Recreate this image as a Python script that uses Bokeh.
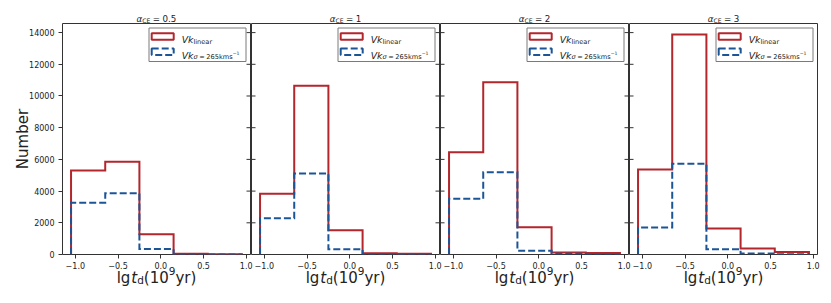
import math
from bokeh.plotting import figure
from bokeh.layouts import row, column
from bokeh.models import FixedTicker, Label, BoxAnnotation, Range1d
from bokeh.embed import file_html
from bokeh.resources import INLINE

# ---------------- data ----------------
bin_edges = [-1.05, -0.65, -0.25, 0.15, 0.55, 0.95]
alpha_ce = ["0.5", "1", "2", "3"]
linear_counts = [
    [5300, 5850, 1280, 40, 10],
    [3840, 10650, 1530, 85, 50],
    [6450, 10860, 1720, 125, 100],
    [5370, 13880, 1640, 380, 160],
]
sigma_counts = [
    [3270, 3870, 350, 10, 0],
    [2280, 5110, 330, 20, 0],
    [3520, 5190, 230, 50, 0],
    [1700, 5720, 335, 60, 20],
]
x_ticks = [-1.0, -0.5, 0.0, 0.5, 1.0]
x_tick_labels = ["\u22121.0", "\u22120.5", "0.0", "0.5", "1.0"]
y_ticks = [0, 2000, 4000, 6000, 8000, 10000, 12000, 14000]
y_label = "Number"

# ---------------- style ----------------
FONT = "DejaVu Sans"
RED = "#b2262c"
BLUE = "#1c5596"
SPINE = "#333333"
TEXT = "#222222"
FW, FH = 188, 231
TOTAL_W, TOTAL_H = 831, 303
LEFT0, TOP0, STEP = 62, 23, 189

W = {" ": .318, "=": .838, ".": .318, "(": .390, ")": .390, "\u2212": .838,
     "0": .636, "1": .636, "2": .636, "3": .636, "4": .636, "5": .636,
     "6": .636, "7": .636, "8": .636, "9": .636,
     "C": .698, "E": .632, "V": .684, "k": .579, "l": .278, "i": .278,
     "n": .634, "e": .615, "a": .613, "r": .411, "m": .974, "s": .521,
     "g": .635, "t": .392, "d": .635, "y": .592,
     "\u03b1": .659, "\u03c3": .634}


def tw(s, size):
    return sum(W.get(c, .6) for c in s) * size


span_x = bin_edges[-1] - bin_edges[0]
x_lo = bin_edges[0] - 0.05 * span_x
x_hi = bin_edges[-1] + 0.05 * span_x
y_hi = 1.05 * max(max(c) for c in linear_counts + sigma_counts)


def dx(px):
    return x_lo + px * (x_hi - x_lo) / FW


def dy(py):
    return py * y_hi / FH


def put(p, x_px, y_px, items, align="left", color=TEXT, conv=None):
    """items: (text, size, style, dy) ; text None -> gap of `size` px."""
    total = sum(tw(t, s) if t is not None else s for t, s, _, _ in items)
    x = x_px - total / 2 if align == "center" else x_px
    fx, fy = conv if conv else (dx, dy)
    for t, s, style, off in items:
        if t is None:
            x += s
            continue
        p.add_layout(Label(x=fx(x), y=fy(y_px + off), text=t, text_font=FONT,
                           text_font_size=f"{s}px", text_font_style=style,
                           text_color=color, text_align="left",
                           text_baseline="alphabetic"))
        x += tw(t, s)


def step_path(edges, counts):
    xs, ys = [edges[0]], [0]
    for i, c in enumerate(counts):
        xs += [edges[i], edges[i + 1]]
        ys += [c, c]
    xs.append(edges[-1])
    ys.append(0)
    return xs, ys


tick_len = 4 * (x_hi - x_lo) / FW
figs = []
for k in range(4):
    left = LEFT0 if k == 0 else 0
    right = 5 if k == 3 else 6
    p = figure(frame_width=FW, frame_height=FH, min_border_left=left,
               min_border_right=right, min_border_top=TOP0,
               min_border_bottom=TOTAL_H - TOP0 - FH,
               x_range=Range1d(x_lo, x_hi), y_range=Range1d(0, y_hi),
               output_backend="svg", toolbar_location=None, title=None)
    p.border_fill_color = None
    p.background_fill_color = None
    p.outline_line_color = SPINE
    p.outline_line_width = 1
    p.xgrid.visible = False
    p.ygrid.visible = False
    if k > 0:
        p.margin = (0, 0, 0, -5)

    xa = p.xaxis[0]
    xa.ticker = FixedTicker(ticks=x_ticks)
    xa.major_label_overrides = {t: l for t, l in zip(x_ticks, x_tick_labels)}
    xa.major_tick_out = 4
    xa.major_tick_in = 0
    xa.minor_tick_in = 0
    xa.minor_tick_out = 0
    xa.axis_line_color = None
    xa.major_tick_line_color = SPINE
    xa.major_label_text_font_size = "8px"
    xa.major_label_text_font = FONT
    xa.major_label_text_color = TEXT
    xa.major_label_standoff = 3

    ya = p.yaxis[0]
    n = len(y_ticks)
    if k == 0:
        ya.ticker = FixedTicker(ticks=y_ticks)
        ya.minor_tick_in = 0
        ya.minor_tick_out = 0
        ya.axis_line_color = None
        ya.major_tick_line_color = SPINE
        ya.major_tick_out = 4
        ya.major_tick_in = 0
        ya.major_label_text_font_size = "8px"
        ya.major_label_text_font = FONT
        ya.major_label_text_color = TEXT
        ya.major_label_standoff = 4
    else:
        ya.visible = False
        p.segment(x0=[x_lo] * n, y0=y_ticks, x1=[x_lo + tick_len] * n, y1=y_ticks,
                  line_color=SPINE, line_width=1)
    if k < 3:
        p.segment(x0=[x_hi] * n, y0=y_ticks, x1=[x_hi - tick_len] * n, y1=y_ticks,
                  line_color=SPINE, line_width=1)

    xs, ys = step_path(bin_edges, linear_counts[k])
    p.line(xs, ys, line_color=RED, line_width=2, line_join="miter")
    xs, ys = step_path(bin_edges, sigma_counts[k])
    p.line(xs, ys, line_color=BLUE, line_width=2, line_join="miter",
           line_dash="7 3")

    # legend
    bl, br = FW - 101.5, FW - 4.5
    bt, bb = FH - 4.5, FH - 38
    p.add_layout(BoxAnnotation(left=dx(bl), right=dx(br), top=dy(bt), bottom=dy(bb),
                               fill_color="white", fill_alpha=1,
                               line_color="#7a7a7a", line_alpha=1, line_width=1))
    p.add_layout(BoxAnnotation(left=dx(bl + 2.7), right=dx(bl + 24.7),
                               top=dy(FH - 9.8), bottom=dy(FH - 16.3),
                               fill_color=None, fill_alpha=0, line_alpha=1,
                               line_color=RED, line_width=2))
    p.add_layout(BoxAnnotation(left=dx(bl + 2.7), right=dx(bl + 24.7),
                               top=dy(FH - 25.1), bottom=dy(FH - 31.6),
                               fill_color=None, fill_alpha=0, line_alpha=1,
                               line_color=BLUE, line_width=2, line_dash="7 3"))
    put(p, bl + 32.7, FH - 16.3, [("Vk", 9.3, "italic", 0),
                                  ("linear", 6.6, "normal", -1.8)])
    put(p, bl + 32.7, FH - 31.6, [("Vk", 9.3, "italic", 0),
                                  ("\u03c3", 6.6, "italic", -1.8),
                                  (None, 1.6, None, 0),
                                  ("=", 6.6, "normal", -1.8),
                                  (None, 1.6, None, 0),
                                  ("265kms", 6.6, "normal", -1.8),
                                  ("\u22121", 4.6, "normal", 1.8)])
    figs.append(p)

main = row(*figs, spacing=0)

# transparent overlay for the texts that sit outside the plot frames
ov = figure(width=TOTAL_W, height=TOTAL_H, x_range=Range1d(0, TOTAL_W),
            y_range=Range1d(0, TOTAL_H), min_border=0, x_axis_location=None,
            y_axis_location=None, output_backend="svg", toolbar_location=None,
            title=None)
ov.border_fill_color = None
ov.background_fill_color = None
ov.outline_line_color = None
ov.grid.visible = False
ov.margin = (-TOTAL_H, 0, 0, 0)
page = (lambda x: x, lambda y: TOTAL_H - y)   # page pixel coords -> overlay data

for k in range(4):
    cx = LEFT0 + STEP * k + FW / 2
    # panel title  alpha_CE = value
    put(ov, cx, 18, [("\u03b1", 8.7, "italic", 0),
                     ("CE", 6.1, "normal", 2),
                     (None, 2.4, None, 0),
                     ("=", 8.7, "normal", 0),
                     (None, 2.4, None, 0),
                     (alpha_ce[k], 8.7, "normal", 0)],
        align="center", conv=page)
    # x label  lg t_d (10^9 yr)
    put(ov, cx, 277.3, [("lg", 15, "normal", 0), (None, 1.0, None, 0),
                        ("t", 15, "italic", 0), ("d", 10.5, "normal", 2.5),
                        ("(10", 15, "normal", 0), ("9", 10.5, "normal", -6.5),
                        ("yr)", 15, "normal", 0)], align="center", conv=page)

ov.add_layout(Label(x=22.7, y=TOTAL_H - 138.5, text=y_label, angle=math.pi / 2,
                    text_font=FONT, text_font_size="15px", text_color=TEXT,
                    text_align="center", text_baseline="alphabetic"))

layout = column(main, ov, spacing=0)
open("out.html", "w").write(file_html(layout, INLINE))
